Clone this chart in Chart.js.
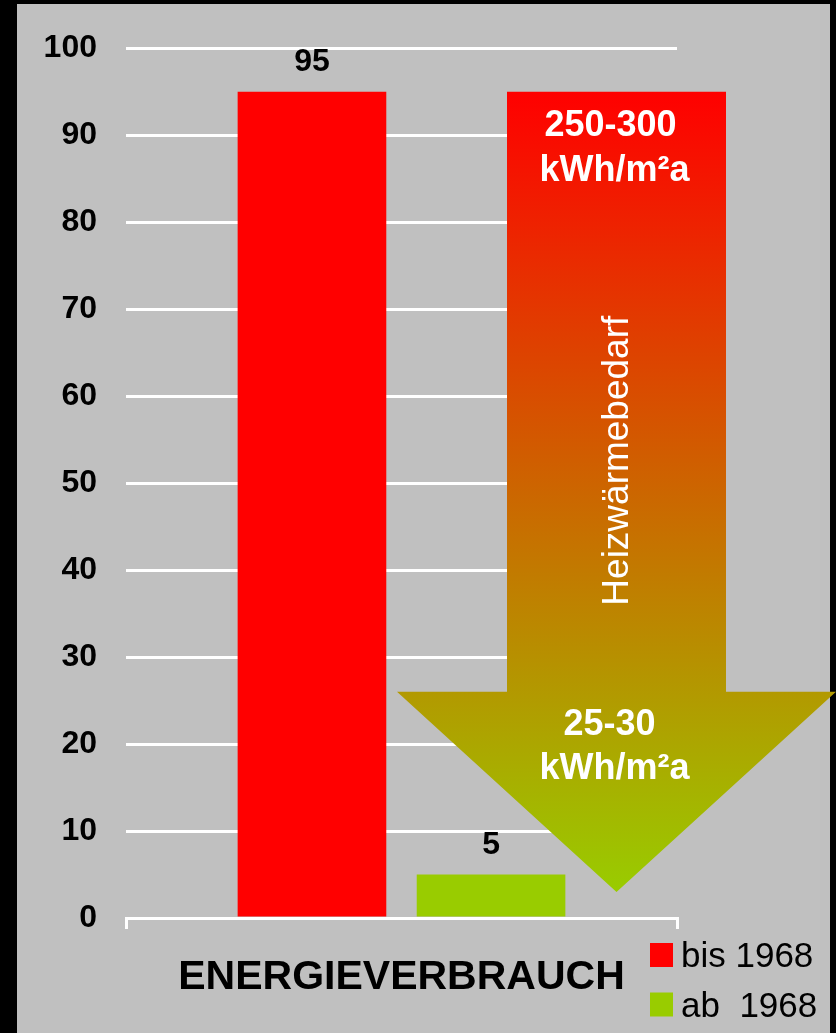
<!DOCTYPE html>
<html>
<head>
<meta charset="utf-8">
<script src="https://cdn.jsdelivr.net/npm/chart.js@4.4.1/dist/chart.umd.min.js"></script>
<style>
  html, body { margin: 0; padding: 0; background: #000; }
  canvas { display: block; }
</style>
</head>
<body>
<canvas id="energyChart" width="836" height="1033"></canvas>
<script>
const categories = ["ENERGIEVERBRAUCH"];
const seriesLabels = ["bis 1968", "ab  1968"];
const seriesColors = ["#ff0000", "#99cc00"];
const valuesBis1968 = [95];
const valuesAb1968 = [5];
const yMin = 0, yMax = 100, yStep = 10;

const arrowTopText = ["250-300", "kWh/m²a"];
const arrowBottomText = ["25-30", "kWh/m²a"];
const arrowSideText = "Heizwärmebedarf";
// arrow goes from the old level down to near the new one (y axis units)
const arrowStart = 95;
const arrowNeck = 26;
const arrowTip = 3;

const FONT = "'Liberation Sans', Arial, sans-serif";
Chart.defaults.font.family = FONT;

// grey panel with the black frame round it
const backgroundPlugin = {
    id: "panel",
    beforeDraw(chart) {
        const ctx = chart.ctx;
        ctx.save();
        ctx.fillStyle = "#000";
        ctx.fillRect(0, 0, chart.width, chart.height);
        ctx.fillStyle = "#c0c0c0";
        ctx.fillRect(17, 4, 813, chart.height - 4);
        ctx.restore();
    }
};

const arrowPlugin = {
    id: "arrow",
    afterDatasetsDraw(chart) {
        const ctx = chart.ctx;
        const y = chart.scales.y;
        const cx = chart.chartArea.left + 490.5;
        const yTop = y.getPixelForValue(arrowStart);
        const yNeck = y.getPixelForValue(arrowNeck);
        const yTip = y.getPixelForValue(arrowTip);
        const body = 109.5, head = 219.5;

        const grad = ctx.createLinearGradient(0, yTop, 0, yTip);
        grad.addColorStop(0, "#ff0000");
        grad.addColorStop(1, "#99cc00");

        ctx.save();
        ctx.beginPath();
        ctx.moveTo(cx - body, yTop);
        ctx.lineTo(cx + body, yTop);
        ctx.lineTo(cx + body, yNeck);
        ctx.lineTo(cx + head, yNeck);
        ctx.lineTo(cx, yTip);
        ctx.lineTo(cx - head, yNeck);
        ctx.lineTo(cx - body, yNeck);
        ctx.closePath();
        ctx.fillStyle = grad;
        ctx.fill();

        ctx.fillStyle = "#fff";
        ctx.textAlign = "center";
        ctx.textBaseline = "alphabetic";
        ctx.font = "bold 36px " + FONT;
        ctx.fillText(arrowTopText[0], cx - 6, yTop + 44);
        ctx.fillText(arrowTopText[1], cx - 2, yTop + 89);
        ctx.fillText(arrowBottomText[0], cx - 7, yNeck + 43);
        ctx.fillText(arrowBottomText[1], cx - 2, yNeck + 87);

        ctx.translate(cx + 11.5, yTop + 369);
        ctx.rotate(-Math.PI / 2);
        ctx.font = "37px " + FONT;
        ctx.fillText(arrowSideText, 0, 0);
        ctx.restore();
    }
};

const valueLabelPlugin = {
    id: "valueLabels",
    afterDatasetsDraw(chart) {
        const ctx = chart.ctx;
        ctx.save();
        ctx.font = "bold 32px " + FONT;
        ctx.fillStyle = "#000";
        ctx.textAlign = "center";
        ctx.textBaseline = "alphabetic";
        chart.data.datasets.forEach((ds, i) => {
            chart.getDatasetMeta(i).data.forEach((bar, j) => {
                ctx.fillText(ds.data[j], bar.x, bar.y - 21);
            });
        });
        ctx.restore();
    }
};

const legendPlugin = {
    id: "sideLegend",
    afterDraw(chart) {
        const ctx = chart.ctx;
        ctx.save();
        ctx.font = "35px " + FONT;
        ctx.textAlign = "left";
        ctx.textBaseline = "alphabetic";
        chart.data.datasets.forEach((ds, i) => {
            const top = 943 + i * 49.5;
            ctx.fillStyle = ds.backgroundColor;
            ctx.fillRect(650, top, 23, 24);
            ctx.fillStyle = "#000";
            ctx.fillText(ds.label, 681, top + 24);
        });
        ctx.restore();
    }
};

new Chart(document.getElementById("energyChart"), {
    type: "bar",
    data: {
        labels: categories,
        datasets: [
            {
                label: seriesLabels[0],
                data: valuesBis1968,
                backgroundColor: seriesColors[0],
                categoryPercentage: 0.65,
                barPercentage: 0.83
            },
            {
                label: seriesLabels[1],
                data: valuesAb1968,
                backgroundColor: seriesColors[1],
                categoryPercentage: 0.65,
                barPercentage: 0.83
            }
        ]
    },
    options: {
        responsive: false,
        animation: false,
        layout: { padding: { left: 17, top: 46, right: 159, bottom: 0 } },
        plugins: {
            legend: { display: false },
            tooltip: { enabled: false }
        },
        scales: {
            x: {
                grid: {
                    drawOnChartArea: false,
                    drawTicks: true,
                    tickLength: 11,
                    color: "#fff",
                    lineWidth: 3
                },
                border: { display: true, color: "#fff", width: 3 },
                ticks: {
                    color: "#000",
                    font: { size: 41, weight: "bold" },
                    padding: 24
                },
                afterFit(scale) { scale.height = 115; }
            },
            y: {
                min: yMin,
                max: yMax,
                ticks: {
                    stepSize: yStep,
                    color: "#000",
                    font: { size: 32, weight: "bold" },
                    padding: 29
                },
                grid: { color: "#fff", lineWidth: 3, drawTicks: false },
                border: { display: false },
                afterFit(scale) { scale.width = 109; }
            }
        }
    },
    plugins: [backgroundPlugin, arrowPlugin, valueLabelPlugin, legendPlugin]
});
</script>
</body>
</html>
